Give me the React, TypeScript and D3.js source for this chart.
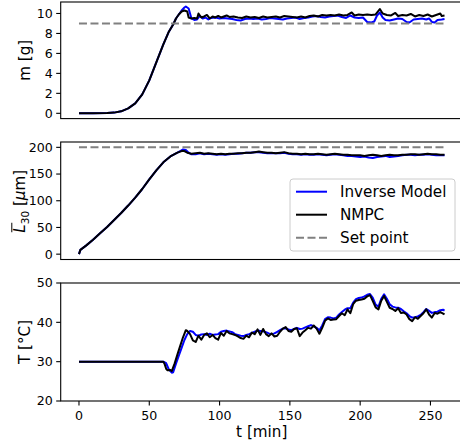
import React from "react";
import * as d3 from "d3";

const W = 460;
const H = 446;

// time axis
const xTicks = [0, 50, 100, 150, 200, 250];
const setT = [0, 260];

// m [g] — rise is shared by both controllers
const mRiseT = [0, 10, 20, 25, 30, 35, 40, 45, 50, 55, 60, 64, 67, 69, 71];
const mRise = [0, 0, 0.02, 0.07, 0.2, 0.5, 1.0, 1.9, 3.3, 5.1, 6.9, 8.2, 8.9, 9.5, 9.9];
const mBlackT = [73, 75, 77, 78, 80, 82, 84, 85, 87, 89, 91, 93, 95, 97, 99, 101, 103, 105, 107, 110, 113, 116, 119, 122, 125, 128, 131, 134, 137, 140, 143, 146, 149, 152, 155, 158, 161, 164, 167, 170, 173, 176, 179, 182, 185, 188, 191, 194, 196, 199, 202, 205, 208, 211, 214, 216, 219, 222, 225, 227, 230, 233, 236, 239, 242, 245, 248, 251, 254, 257, 258, 260];
const mBlack = [10.2, 10.3, 10.2, 9.6, 9.5, 9.55, 9.5, 10.0, 9.6, 9.7, 9.85, 9.5, 9.7, 9.6, 9.75, 9.6, 9.7, 9.8, 9.65, 9.7, 9.6, 9.55, 9.7, 9.6, 9.65, 9.55, 9.7, 9.6, 9.65, 9.7, 9.6, 9.75, 9.7, 9.65, 9.6, 9.7, 9.6, 9.75, 9.8, 9.7, 9.85, 9.8, 9.85, 9.8, 9.9, 9.8, 9.85, 10.1, 9.8, 9.9, 9.85, 9.9, 9.85, 9.9, 10.45, 10.0, 9.85, 9.8, 10.05, 9.75, 9.85, 9.8, 9.95, 9.7, 9.85, 9.75, 9.9, 9.7, 9.85, 10.0, 9.75, 9.8];
const mBlueT = [73, 75, 76, 78, 80, 82, 84, 86, 88, 90, 92, 94, 97, 100, 103, 106, 109, 112, 115, 118, 121, 124, 127, 130, 133, 136, 139, 142, 145, 148, 151, 154, 157, 160, 163, 166, 169, 172, 175, 178, 181, 184, 187, 190, 193, 196, 199, 202, 205, 208, 210, 212, 214, 216, 218, 221, 224, 227, 230, 233, 235, 238, 241, 244, 247, 249, 251, 253, 255, 258, 260];
const mBlue = [10.3, 10.6, 10.7, 10.5, 9.5, 9.35, 9.4, 9.75, 9.5, 9.6, 9.4, 9.55, 9.6, 9.5, 9.55, 9.5, 9.45, 9.35, 9.3, 9.45, 9.5, 9.45, 9.5, 9.4, 9.45, 9.55, 9.5, 9.45, 9.4, 9.5, 9.55, 9.6, 9.45, 9.55, 9.6, 9.7, 9.75, 9.65, 9.6, 9.7, 9.75, 9.8, 9.65, 9.55, 9.8, 9.6, 9.55, 9.6, 9.15, 9.1, 9.2, 9.8, 10.1, 9.6, 9.35, 9.3, 9.4, 9.5, 9.45, 9.15, 9.1, 9.4, 9.45, 9.5, 9.4, 9.5, 9.15, 9.1, 9.35, 9.4, 9.45];
const mSet = [9, 9];
const mTicks = [0, 2, 4, 6, 8, 10];

// mean size L30 [µm]
const lRiseT = [0, 1, 5, 10, 15, 20, 25, 30, 35, 40, 45, 50, 55, 60, 65, 70];
const lRise = [0, 8, 16, 27, 39, 51, 64, 77, 91, 106, 122, 140, 157, 172, 183, 190];
const lBlackT = [73, 75, 77, 80, 83, 86, 89, 92, 95, 98, 101, 104, 107, 110, 113, 116, 119, 122, 125, 128, 131, 134, 137, 140, 143, 146, 149, 152, 155, 158, 161, 164, 167, 170, 173, 176, 179, 182, 185, 188, 191, 194, 197, 200, 203, 206, 209, 212, 215, 218, 221, 224, 227, 230, 233, 236, 239, 242, 245, 248, 251, 254, 257, 260];
const lBlack = [193, 193, 190, 188, 189, 190, 188, 189, 188, 187, 188, 187, 188, 188, 189, 189, 190, 190, 191, 192, 191, 190, 190, 189, 190, 191, 189, 188, 188, 187, 188, 187, 187, 188, 187, 186, 187, 188, 187, 186, 186, 185, 185, 185, 184, 185, 186, 185, 184, 185, 186, 185, 185, 186, 186, 187, 187, 186, 187, 188, 187, 187, 186, 186];
const lBlueT = [72, 74, 76, 78, 80, 83, 86, 89, 92, 95, 98, 101, 104, 107, 110, 113, 116, 119, 122, 125, 128, 131, 134, 137, 140, 143, 146, 149, 152, 155, 158, 161, 164, 167, 170, 173, 176, 179, 182, 185, 188, 191, 194, 197, 200, 203, 206, 209, 212, 215, 218, 221, 224, 227, 230, 233, 236, 239, 242, 245, 248, 251, 254, 257, 260];
const lBlue = [193, 196, 195, 190, 187, 187, 189, 187, 188, 187, 186, 187, 186, 187, 188, 188, 189, 190, 190, 191, 191, 190, 189, 189, 189, 189, 190, 188, 187, 187, 186, 187, 186, 186, 187, 186, 185, 186, 187, 186, 185, 184, 184, 183, 182, 183, 181, 180, 182, 183, 184, 182, 183, 184, 185, 186, 186, 185, 186, 186, 187, 186, 185, 185, 185];
const lSet = [200, 200];
const lTicks = [0, 50, 100, 150, 200];

// temperature [°C]
const TBlackT = [0, 60, 61, 62, 63, 65, 66, 68, 70, 72, 74, 76, 77, 79, 81, 83, 85, 87, 89, 91, 93, 95, 97, 99, 101, 103, 105, 107, 109, 111, 113, 115, 117, 119, 121, 123, 125, 127, 129, 131, 133, 135, 137, 139, 141, 143, 145, 147, 149, 151, 153, 155, 157, 159, 161, 163, 165, 167, 169, 171, 173, 175, 177, 179, 181, 183, 185, 187, 189, 191, 193, 195, 197, 199, 201, 203, 205, 207, 209, 211, 213, 215, 217, 219, 221, 223, 225, 227, 229, 231, 233, 235, 237, 239, 241, 243, 245, 247, 249, 251, 253, 255, 257, 259, 260];
const TBlack = [30, 30, 29.3, 28.2, 27.8, 27.9, 27.6, 29.5, 31.8, 34, 36.2, 38.0, 37.8, 37.0, 35.4, 35.0, 36.6, 35.6, 36.8, 37.2, 36.2, 36.8, 36.0, 35.6, 37.3, 36.6, 37.8, 37.2, 37.0, 36.8, 36.4, 36.0, 35.8, 36.6, 36.2, 37.4, 37.0, 38.2, 36.8, 38.3, 37.0, 36.5, 37.2, 36.4, 36.6, 37.6, 38.4, 38.8, 37.8, 37.6, 38.3, 38.5, 36.5, 37.4, 38.0, 38.6, 38.4, 39.2, 38.4, 37.1, 38.6, 40.4, 41.0, 40.6, 40.7, 40.8, 41.6, 42.3, 41.8, 43.3, 42.3, 44.6, 45.5, 45.7, 45.8, 46.0, 46.6, 46.9, 45.4, 43.8, 43.3, 45.5, 46.7, 45.2, 43.7, 43.4, 42.9, 43.6, 42.4, 42.5, 42.0, 40.8, 40.3, 41.3, 40.9, 41.6, 42.3, 43.3, 42.0, 41.2, 42.4, 42.2, 42.6, 42.2, 42.0];
const TBlueT = [0, 60, 62, 64, 66, 67, 69, 71, 73, 75, 77, 79, 81, 83, 85, 87, 89, 91, 93, 95, 97, 99, 101, 103, 105, 107, 109, 111, 113, 115, 117, 119, 121, 123, 125, 127, 129, 131, 133, 135, 137, 139, 141, 143, 145, 147, 149, 151, 153, 155, 157, 159, 161, 163, 165, 167, 169, 171, 173, 175, 177, 179, 181, 183, 185, 187, 189, 191, 193, 195, 197, 199, 201, 203, 205, 207, 209, 211, 213, 215, 217, 219, 221, 223, 225, 227, 229, 231, 233, 235, 237, 239, 241, 243, 245, 247, 249, 251, 253, 255, 257, 259, 260];
const TBlue = [30, 30, 29.6, 28.0, 27.2, 27.3, 29.5, 31.5, 33.5, 35.5, 37.0, 37.8, 37.6, 36.8, 36.6, 36.9, 37.0, 36.8, 37.1, 36.8, 36.9, 37.0, 37.6, 37.8, 37.9, 37.7, 37.5, 37.0, 36.8, 36.6, 36.5, 36.8, 37.0, 37.3, 37.6, 37.9, 37.8, 37.7, 37.5, 37.2, 37.0, 37.2, 37.6, 38.0, 38.4, 38.5, 38.2, 38.0, 38.3, 38.6, 38.3, 38.4, 38.7, 39.0, 39.3, 39.0, 38.6, 38.0, 39.2, 40.8, 41.3, 41.2, 41.0, 41.2, 42.0, 42.6, 43.2, 43.6, 43.6, 45.0, 45.9, 46.2, 46.3, 46.6, 47.0, 47.2, 46.2, 44.5, 44.0, 46.0, 47.1, 46.0, 44.6, 44.0, 43.8, 43.7, 43.4, 42.8, 42.3, 41.6, 41.2, 41.3, 41.5, 41.9, 42.6, 43.4, 42.9, 42.4, 42.6, 42.7, 43.1, 43.2, 43.0];
const TTicks = [20, 30, 40, 50];

const legendLabels = ["Inverse Model", "NMPC", "Set point"];

const FONT = "DejaVu Sans";
const BLUE = "#0000ff";
const BLACK = "#000000";
const GRAY = "#808080";

const x = d3.scaleLinear().domain([-13, 273]).range([60.7, 462.8]);
const AX_L = 60.7;
const AX_R = 462.8;

type Pt = [number, number];
const pts = (t: number[], v: number[]): Pt[] => d3.zip(t, v) as Pt[];

interface Panel {
  y: d3.ScaleLinear<number, number>;
  ticks: number[];
  blue: Pt[];
  black: Pt[];
  set: Pt[] | null;
  label: string | null;
  labelX: number;
  showX: boolean;
}

const panels: Panel[] = [
  {
    y: d3.scaleLinear().domain([-0.53, 11.15]).range([118.6, 2]),
    ticks: mTicks,
    blue: pts(mRiseT, mRise).concat(pts(mBlueT, mBlue)),
    black: pts(mRiseT, mRise).concat(pts(mBlackT, mBlack)),
    set: pts(setT, mSet),
    label: "m [g]",
    labelX: 25,
    showX: false,
  },
  {
    y: d3.scaleLinear().domain([-10, 210]).range([259.5, 142]),
    ticks: lTicks,
    blue: pts(lRiseT, lRise).concat(pts(lBlueT, lBlue)),
    black: pts(lRiseT, lRise).concat(pts(lBlackT, lBlack)),
    set: pts(setT, lSet),
    label: null, // mathtext label drawn separately
    labelX: 20,
    showX: false,
  },
  {
    y: d3.scaleLinear().domain([20, 50]).range([401, 283]),
    ticks: TTicks,
    blue: pts(TBlueT, TBlue),
    black: pts(TBlackT, TBlack),
    set: null,
    label: "T [°C]",
    labelX: 25,
    showX: true,
  },
];

// overlined L with subscript, rotated
function SizeLabel({ cx, cy }: { cx: number; cy: number }) {
  const start = -32;
  return (
    <g transform={`translate(${cx},${cy}) rotate(-90)`}>
      <text x={start} y={5.3} fontSize={15.2} fontFamily={FONT} fill="#000">
        <tspan fontStyle="italic">L</tspan>
        <tspan fontSize={10.5} dy={3.5}>30</tspan>
        <tspan dy={-3.5}>{" ["}</tspan>
        <tspan fontStyle="italic">μ</tspan>
        <tspan>m]</tspan>
      </text>
      <line x1={start + 0.5} x2={start + 10} y1={-8.2} y2={-8.2} stroke="#000" strokeWidth={1} />
    </g>
  );
}

function PanelView({ p }: { p: Panel }) {
  const [y0, y1] = p.y.range();
  const line = d3
    .line<Pt>()
    .x((d) => x(d[0]))
    .y((d) => p.y(d[1]));
  const midY = (y0 + y1) / 2;
  return (
    <g>
      <path d={line(p.blue) ?? ""} fill="none" stroke={BLUE} strokeWidth={2} strokeLinejoin="round" />
      <path d={line(p.black) ?? ""} fill="none" stroke={BLACK} strokeWidth={2} strokeLinejoin="round" />
      {p.set && (
        <path d={line(p.set) ?? ""} fill="none" stroke={GRAY} strokeWidth={2} strokeDasharray="8,3.5" />
      )}
      <rect x={AX_L} y={y1} width={AX_R - AX_L} height={y0 - y1} fill="none" stroke="#000" strokeWidth={1.1} />
      {p.ticks.map((t) => (
        <g key={t} transform={`translate(0,${p.y(t)})`}>
          <line x1={AX_L - 4.5} x2={AX_L} stroke="#000" strokeWidth={1.1} />
          <text x={AX_L - 8} dy="0.35em" textAnchor="end" fontSize={12.6} fontFamily={FONT} fill="#000">
            {t}
          </text>
        </g>
      ))}
      {p.showX &&
        xTicks.map((t) => (
          <g key={t} transform={`translate(${x(t)},${y0})`}>
            <line y2={4.5} stroke="#000" strokeWidth={1.1} />
            <text y={18.5} textAnchor="middle" fontSize={12.6} fontFamily={FONT} fill="#000">
              {t}
            </text>
          </g>
        ))}
      {p.label ? (
        <text
          transform={`translate(${p.labelX},${midY}) rotate(-90)`}
          textAnchor="middle"
          dy="0.35em"
          fontSize={15.2}
          fontFamily={FONT}
          fill="#000"
        >
          {p.label}
        </text>
      ) : (
        <SizeLabel cx={p.labelX} cy={midY} />
      )}
    </g>
  );
}

function Legend() {
  const lx = 290;
  const ly = 179;
  const colors = [BLUE, BLACK, GRAY];
  return (
    <g>
      <rect x={lx} y={ly} width={165} height={72} rx={3} fill="#fff" fillOpacity={0.8} stroke="#cccccc" strokeWidth={1} />
      {legendLabels.map((lab, i) => {
        const cy = ly + 12.7 + i * 23;
        return (
          <g key={lab}>
            <line
              x1={lx + 6}
              x2={lx + 37}
              y1={cy}
              y2={cy}
              stroke={colors[i]}
              strokeWidth={2}
              strokeDasharray={i === 2 ? "8,3.5" : undefined}
            />
            <text x={lx + 50} y={cy} dy="0.35em" fontSize={15.2} fontFamily={FONT} fill="#000">
              {lab}
            </text>
          </g>
        );
      })}
    </g>
  );
}

export default function App() {
  return (
    <svg
      width={W}
      height={H}
      viewBox={`0 0 ${W} ${H}`}
      style={{ position: "absolute", left: 0, top: 0, background: "#fff" }}
    >
      {panels.map((p, i) => (
        <PanelView key={i} p={p} />
      ))}
      <Legend />
      <text x={x(130)} y={437} textAnchor="middle" fontSize={15.2} fontFamily={FONT} fill="#000">
        t [min]
      </text>
    </svg>
  );
}
